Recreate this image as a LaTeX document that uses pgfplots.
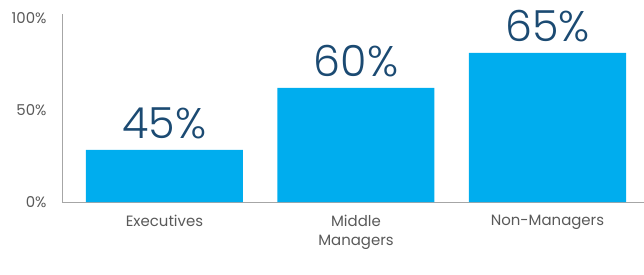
\documentclass[border=0pt]{standalone}
\usepackage{fontspec}
\setmainfont{Poppins}
\newfontfamily\lightfont{Poppins Light}
\usepackage{pgfplots}
\pgfplotsset{compat=1.18}
\definecolor{barblue}{HTML}{00ADEE}
\definecolor{valblue}{HTML}{1B4A72}
\definecolor{ticgray}{HTML}{595959}
\definecolor{axgray}{HTML}{A6A6A6}
\begin{document}
\begin{tikzpicture}
\begin{axis}[
  at={(0,0)}, anchor=south west,
  scale only axis,
  width=582bp, height=187.7bp,
  xmin=-0.535, xmax=2.504,
  ymin=0, ymax=102,
  ybar, bar width=0.82, bar shift=0pt,
  axis x line*=bottom, axis y line*=left,
  axis line style={axgray, line width=0.8pt},
  x axis line style={-}, y axis line style={-},
  xtick={0,1,2},
  xticklabels={Executives, Middle\\Managers, Non-Managers},
  xticklabel style={align=center, font=\fontsize{15}{18.5}\selectfont, text=ticgray, yshift=-10bp},
  ytick={0,50,100},
  yticklabels={0\%, 50\%, 100\%},
  yticklabel style={font=\fontsize{15}{18}\selectfont, text=ticgray, xshift=-12bp},
  /pgf/number format/assume math mode=true,
  major tick length=0pt,
  nodes near coords,
  point meta=explicit symbolic,
  nodes near coords style={font=\lightfont\fontsize{43}{45}\selectfont, text=valblue, yshift=7bp},
]
\addplot[fill=barblue, draw=none] table[meta=lab] {
x y lab
0 28.3 45\%
1 62.0 60\%
2 81.0 65\%
};
\end{axis}
\pgfresetboundingbox
\path (-62bp,-73bp) rectangle (582bp,202bp);
\end{tikzpicture}
\end{document}
